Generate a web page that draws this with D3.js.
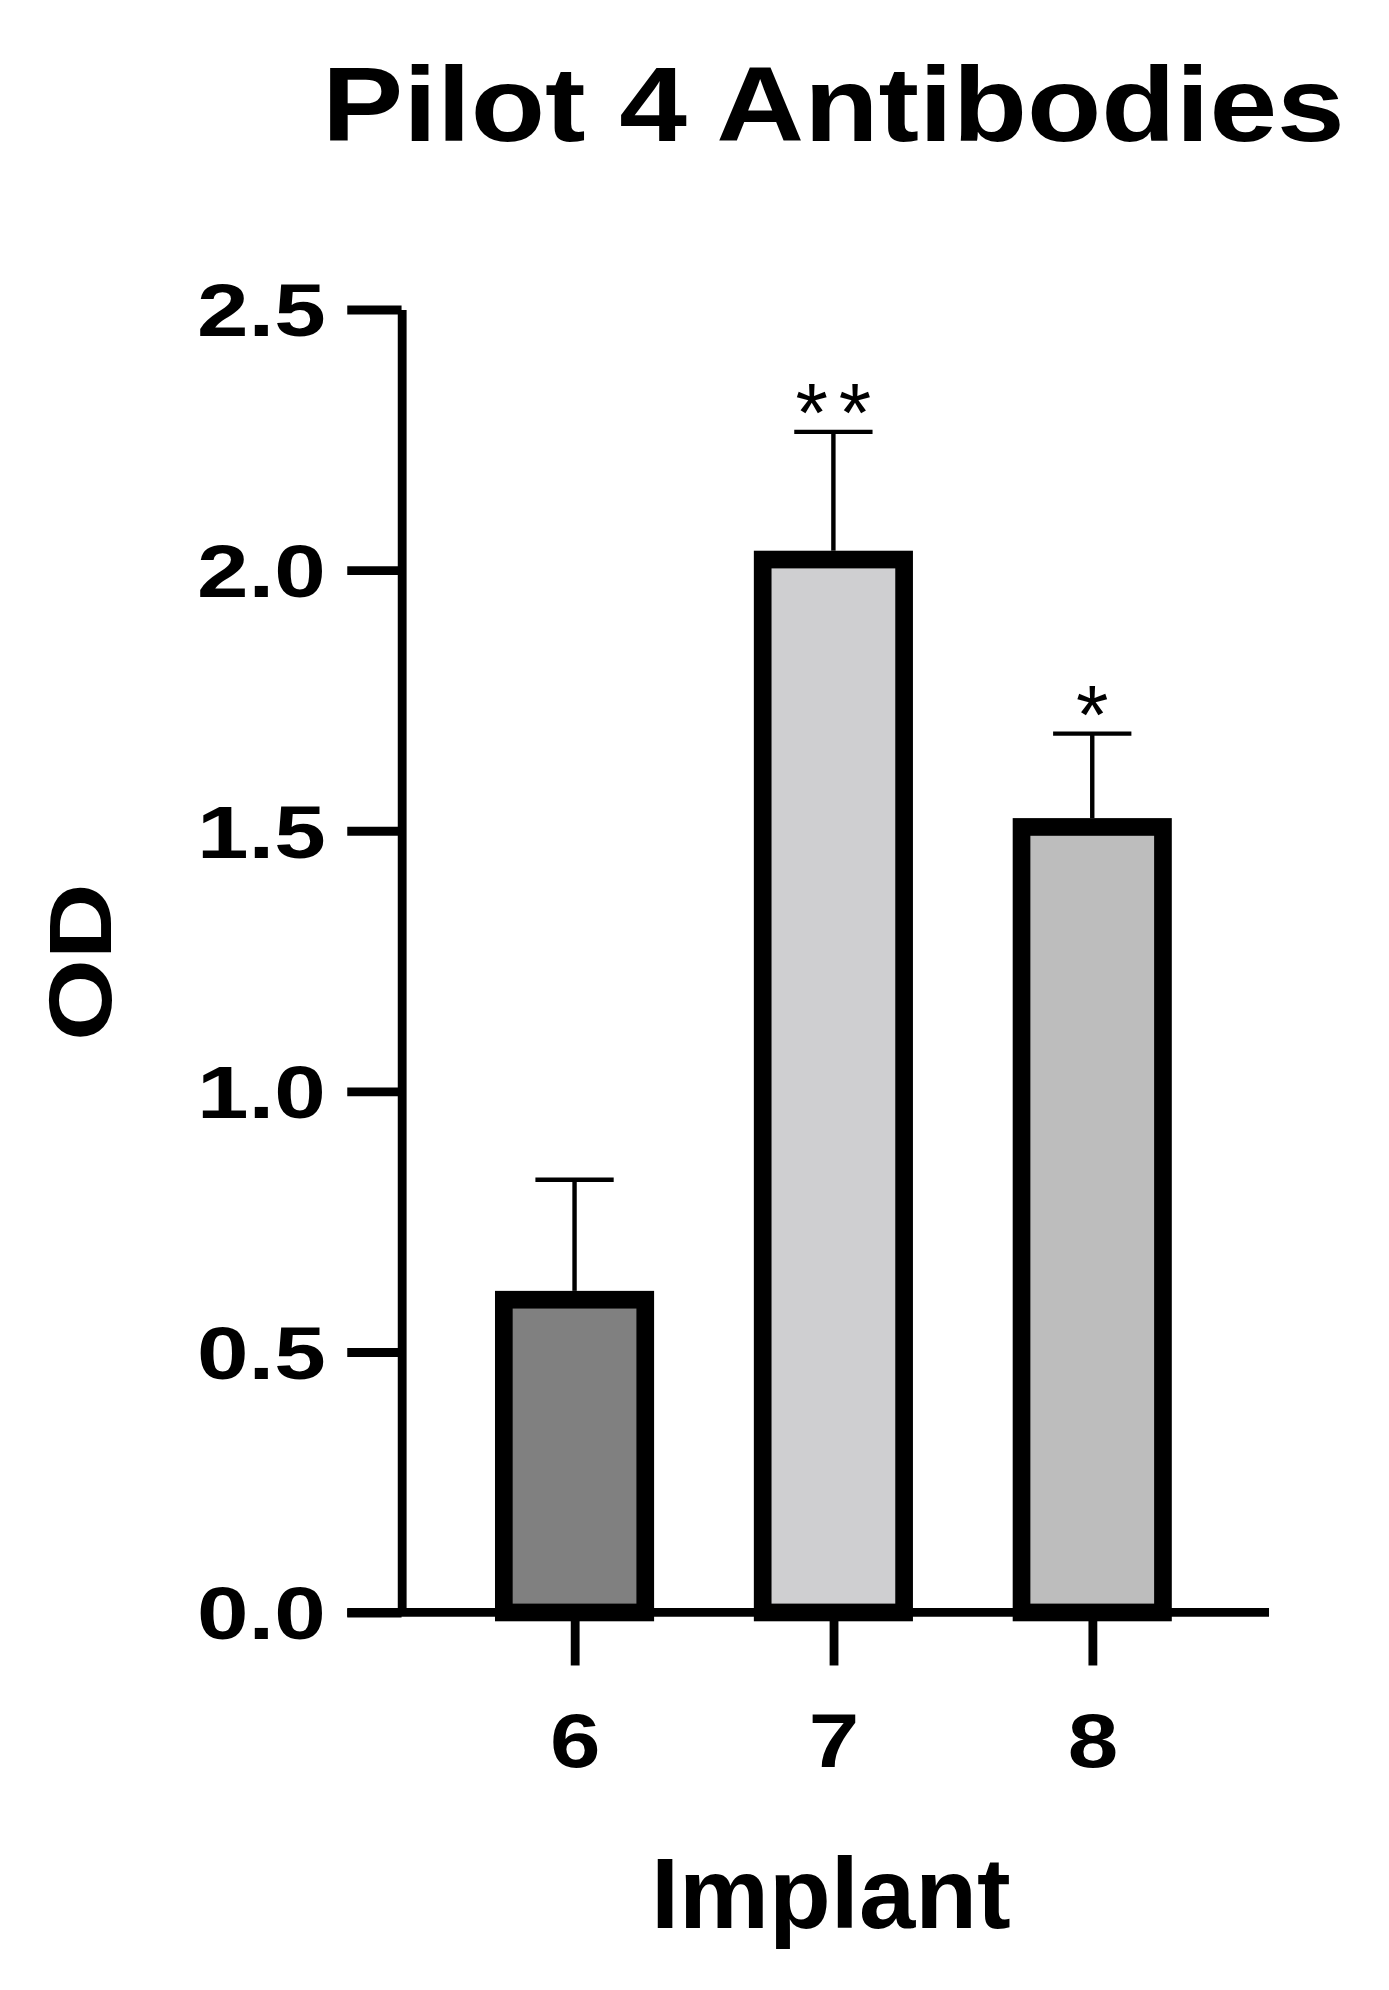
<!DOCTYPE html>
<html>
<head>
<script src="https://cdnjs.cloudflare.com/ajax/libs/d3/7.8.5/d3.min.js"></script>
<style>
  body { margin: 0; background: #fff; }
  svg { display: block; font-family: "Liberation Sans", Arial, sans-serif; }
</style>
</head>
<body>
<div id="chart"></div>
<script>
const categories = ["6", "7", "8"];
const means = [0.60, 2.02, 1.507];
const errTop = [0.83, 2.265, 1.686];
const fills = ["#808080", "#cfcfd1", "#bdbdbd"];
const stars = ["", "**", "*"];
const yTicks = [0, 0.5, 1, 1.5, 2, 2.5];

const svg = d3.select("#chart").append("svg")
  .attr("width", 1389).attr("height", 1990)
  .attr("viewBox", [0, 0, 1100, 1576]);

const y = d3.scaleLinear().domain([0, 2.5]).range([1277, 245]);
const x = d3.scalePoint().domain(categories).range([455, 865]);
const bw = 112;

// bars
svg.append("g").selectAll("rect").data(categories).join("rect")
  .attr("x", d => x(d) - bw / 2).attr("width", bw)
  .attr("y", (d, i) => y(means[i])).attr("height", (d, i) => y(0) - y(means[i]))
  .attr("fill", (d, i) => fills[i]).attr("stroke", "#000").attr("stroke-width", 14);

// error bars
const eb = svg.append("g").attr("stroke", "#000").attr("stroke-width", 3.5);
categories.forEach((c, i) => {
  const cx = x(c);
  eb.append("line").attr("x1", cx).attr("x2", cx).attr("y1", y(means[i]) - 7).attr("y2", y(errTop[i]));
  eb.append("line").attr("x1", cx - 31).attr("x2", cx + 31).attr("y1", y(errTop[i])).attr("y2", y(errTop[i]));
  if (stars[i]) svg.append("text").attr("x", cx).attr("y", y(errTop[i]) + 8)
    .attr("text-anchor", "middle").attr("font-size", 66)
    .attr("textLength", stars[i].length * 30).attr("lengthAdjust", "spacing")
    .text(stars[i]);
});

// y axis
const yAxis = svg.append("g").attr("transform", "translate(318,0)")
  .call(d3.axisLeft(y).tickValues(yTicks).tickFormat(d3.format(".1f")).tickSize(43).tickSizeOuter(0));
yAxis.select(".domain").attr("stroke-width", 7);
yAxis.selectAll(".tick line").attr("stroke-width", 7);
yAxis.selectAll(".tick text").attr("font-size", 58).attr("font-weight", "bold")
  .attr("fill", "#000").attr("x", -60).attr("dy", "0.36em")
  .attr("textLength", 102).attr("lengthAdjust", "spacingAndGlyphs");

// x axis
const xAxis = svg.append("g").attr("transform", "translate(0,1277)")
  .call(d3.axisBottom(x).tickSize(42).tickSizeOuter(0));
xAxis.select(".domain").attr("d", "M275,0H1005").attr("stroke-width", 7);
xAxis.selectAll(".tick line").attr("stroke-width", 7);
xAxis.selectAll(".tick text").attr("font-size", 60).attr("font-weight", "bold")
  .attr("fill", "#000").attr("y", 80).attr("dy", "0.71em")
  .attr("textLength", 40).attr("lengthAdjust", "spacingAndGlyphs");

svg.append("text").attr("x", 660).attr("y", 112).attr("text-anchor", "middle")
  .attr("font-size", 84).attr("font-weight", "bold")
  .attr("textLength", 810).attr("lengthAdjust", "spacingAndGlyphs").text("Pilot 4 Antibodies");
svg.append("text").attr("transform", "translate(88,762) rotate(-90)").attr("text-anchor", "middle")
  .attr("font-size", 70).attr("font-weight", "bold")
  .attr("textLength", 125).attr("lengthAdjust", "spacingAndGlyphs").text("OD");
svg.append("text").attr("x", 658).attr("y", 1527).attr("text-anchor", "middle")
  .attr("font-size", 80).attr("font-weight", "bold")
  .attr("textLength", 285).attr("lengthAdjust", "spacingAndGlyphs").text("Implant");
</script>
</body>
</html>
